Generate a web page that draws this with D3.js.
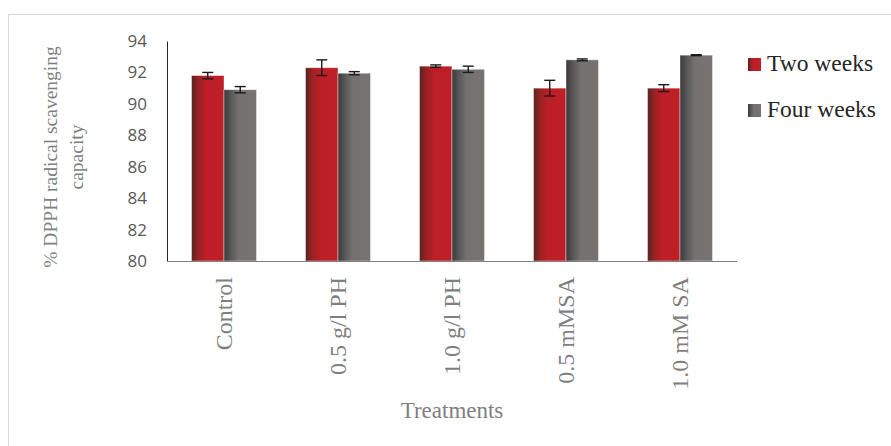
<!DOCTYPE html>
<html>
<head>
<meta charset="utf-8">
<script src="https://cdn.jsdelivr.net/npm/d3@7"></script>
<style>
  html, body { margin: 0; padding: 0; background: #fff; }
  svg { display: block; }
  .serif { font-family: "Liberation Serif", "Times New Roman", serif; }
  .sans { font-family: "Open Sans", "Liberation Sans", sans-serif; }
</style>
</head>
<body>
<svg id="chart" width="891" height="446"></svg>
<script>
// Treatments and DPPH scavenging (%) after two and four weeks
const categories = ["Control", "0.5 g/l PH", "1.0 g/l PH", "0.5 mMSA", "1.0 mM SA"];
const seriesNames = ["Two weeks", "Four weeks"];
const twoWeeks = [91.8, 92.3, 92.4, 91.0, 91.0];
const twoWeeksErr = [0.2, 0.5, 0.08, 0.5, 0.22];
const fourWeeks = [90.9, 91.95, 92.2, 92.8, 93.1];
const fourWeeksErr = [0.2, 0.1, 0.2, 0.06, 0.03];
const yTicks = [80, 82, 84, 86, 88, 90, 92, 94];

const svg = d3.select("#chart");
const plot = { left: 167, right: 737, top: 41, bottom: 261 };

// outer chart frame
svg.append("rect")
  .attr("x", 8.5).attr("y", 14.5)
  .attr("width", 900).attr("height", 500)
  .attr("fill", "none").attr("stroke", "#d9d9d9").attr("stroke-width", 1);

// gradients for the bar fills
const defs = svg.append("defs");
const gradStops = {
  "Two weeks": ["#5a2420", "#9a2224", "#be1e25", "#bf1f26"],
  "Four weeks": ["#3a3a3a", "#5a5858", "#747170", "#767271"]
};
const gradId = name => "g-" + name.replace(/\s+/g, "");
seriesNames.forEach(name => {
  const g = defs.append("linearGradient").attr("id", gradId(name))
    .attr("x1", "0%").attr("x2", "100%").attr("y1", "0%").attr("y2", "0%");
  const c = gradStops[name];
  g.append("stop").attr("offset", "0%").attr("stop-color", c[0]);
  g.append("stop").attr("offset", "22%").attr("stop-color", c[1]);
  g.append("stop").attr("offset", "45%").attr("stop-color", c[2]);
  g.append("stop").attr("offset", "100%").attr("stop-color", c[3]);
});

const x0 = d3.scaleBand().domain(categories).range([plot.left, plot.right]).padding(0);
const x1 = d3.scaleBand().domain(seriesNames).range([0, x0.bandwidth()])
  .paddingInner(0).paddingOuter(0.754);
const y = d3.scaleLinear().domain([80, 94]).range([plot.bottom, plot.top]);

// y axis
const yAxis = svg.append("g")
  .attr("transform", `translate(${plot.left},0)`)
  .call(d3.axisLeft(y).tickValues(yTicks).tickSize(0).tickPadding(20).tickFormat(d3.format("d")));
yAxis.attr("font-family", null).attr("font-size", null);
yAxis.select(".domain").attr("stroke", "#262626").attr("stroke-width", 1);
yAxis.selectAll("text")
  .attr("class", "sans")
  .style("font-size", "17px").attr("fill", "#595959");

// bars
const data = categories.map((c, i) => ({
  cat: c,
  vals: [
    { s: "Two weeks", v: twoWeeks[i], e: twoWeeksErr[i] },
    { s: "Four weeks", v: fourWeeks[i], e: fourWeeksErr[i] }
  ]
}));

const groups = svg.append("g").selectAll("g").data(data).join("g")
  .attr("transform", d => `translate(${x0(d.cat)},0)`);

groups.selectAll("rect").data(d => d.vals).join("rect")
  .attr("x", d => x1(d.s))
  .attr("y", d => y(d.v))
  .attr("width", x1.bandwidth())
  .attr("height", d => y(80) - y(d.v))
  .attr("fill", d => `url(#${gradId(d.s)})`)
  .attr("stroke", "rgba(255,255,255,0.5)")
  .attr("stroke-width", 0.8);

// x axis line
svg.append("line")
  .attr("x1", plot.left).attr("x2", plot.right)
  .attr("y1", plot.bottom + 0.5).attr("y2", plot.bottom + 0.5)
  .attr("stroke", "#808080").attr("stroke-width", 1.2);

// error bars
const cap = 5.5;
const eb = groups.selectAll("g.err").data(d => d.vals).join("g").attr("class", "err")
  .attr("stroke", "#1a1a1a").attr("stroke-width", 1.4);
eb.append("line")
  .attr("x1", d => x1(d.s) + x1.bandwidth() / 2).attr("x2", d => x1(d.s) + x1.bandwidth() / 2)
  .attr("y1", d => y(d.v + d.e)).attr("y2", d => y(d.v - d.e));
eb.append("line")
  .attr("x1", d => x1(d.s) + x1.bandwidth() / 2 - cap).attr("x2", d => x1(d.s) + x1.bandwidth() / 2 + cap)
  .attr("y1", d => y(d.v + d.e)).attr("y2", d => y(d.v + d.e));
eb.append("line")
  .attr("x1", d => x1(d.s) + x1.bandwidth() / 2 - cap).attr("x2", d => x1(d.s) + x1.bandwidth() / 2 + cap)
  .attr("y1", d => y(d.v - d.e)).attr("y2", d => y(d.v - d.e));

// category labels (rotated)
svg.append("g").selectAll("text").data(categories).join("text")
  .attr("class", "serif")
  .attr("transform", d => `translate(${x0(d) + x0.bandwidth() / 2 + 8},${plot.bottom + 16}) rotate(-90)`)
  .attr("text-anchor", "end")
  .style("font-size", "24px").attr("fill", "#7f7f7f")
  .text(d => d);

// axis titles
svg.append("text")
  .attr("class", "serif")
  .attr("x", (plot.left + plot.right) / 2).attr("y", 418)
  .attr("text-anchor", "middle")
  .style("font-size", "23px").attr("fill", "#7f7f7f")
  .text("Treatments");

const yTitle = svg.append("text")
  .attr("class", "serif")
  .attr("transform", `translate(57,${(plot.top + plot.bottom) / 2 + 6}) rotate(-90)`)
  .attr("text-anchor", "middle")
  .style("font-size", "19.5px").attr("fill", "#7f7f7f");
yTitle.append("tspan").attr("x", 0).attr("y", 0).text("% DPPH radical scavenging");
yTitle.append("tspan").attr("x", 0).attr("y", 26).text("capacity");

// legend
const legend = svg.append("g").selectAll("g").data(seriesNames).join("g")
  .attr("transform", (d, i) => `translate(748,${58 + i * 46})`);
legend.append("rect")
  .attr("width", 13).attr("height", 13)
  .attr("fill", d => `url(#${gradId(d)})`);
legend.append("text")
  .attr("class", "serif")
  .attr("x", 19).attr("y", 13)
  .style("font-size", "23.5px").attr("fill", "#262626")
  .text(d => d);
</script>
</body>
</html>
